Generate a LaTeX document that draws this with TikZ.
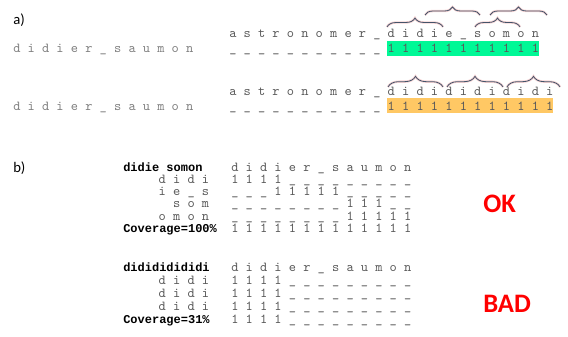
\documentclass[tikz,border=0pt]{standalone}
\usepackage{fontspec}
\setmainfont{Carlito}
\newfontfamily\labelmono{Liberation Mono}
\usepackage{tikz}
\usetikzlibrary{decorations.pathreplacing}
\definecolor{cvgray}{HTML}{595959}
\definecolor{cvname}{HTML}{7F7F7F}
\definecolor{cvgreen}{HTML}{00F896}
\definecolor{cvorange}{HTML}{FFC864}
\definecolor{cvbrace}{HTML}{44546A}
\definecolor{cvglow}{HTML}{F6D3D3}
\definecolor{cvred}{HTML}{FF0000}

\begin{document}
\begin{tikzpicture}[x=0.75pt,y=-0.75pt,
    mono/.style={anchor=base west,inner sep=0pt,font=\fontsize{10.29}{10}\ttfamily,text=cvgray},
    monoright/.style={anchor=base east,inner sep=0pt,font=\fontsize{10.29}{10}\ttfamily,text=cvgray},
    monobold/.style={anchor=base west,inner sep=0pt,font=\fontsize{9}{9}\labelmono\bfseries,text=black},
    partlabel/.style={anchor=base west,inner sep=0pt,font=\fontsize{11}{11}\selectfont},
    verdict/.style={anchor=base west,inner sep=0pt,font=\fontsize{20}{20}\selectfont\bfseries,text=cvred},
    cover/.style={decorate,decoration={brace,amplitude=#1},draw=cvbrace,line width=0.6pt},
    cover/.default=6.75pt,
    coverglow/.style={decorate,decoration={brace,amplitude=#1},draw=cvglow,line width=1.8pt},
    coverglow/.default=6.75pt]
  \useasboundingbox (0,0) rectangle (568,336);

  \node[partlabel] (pa) at (13,24) {a)};
  \fill[cvgreen] (387.4,41) rectangle (538.6,56);
  \node[mono,text=cvname] (aname) at (13,52) {d i d i e r \_ s a u m o n};
  \node[mono] (atext) at (229,37) {a s t r o n o m e r \_ d i d i e \_ s o m o n};
  \node[mono] (amask) at (229,52) {\_ \_ \_ \_ \_ \_ \_ \_ \_ \_ \_ 1 1 1 1 1 1 1 1 1 1 1};
  \foreach \xa/\xb/\yb/\amp in {387/443/27/6.75pt,425/480/15/6pt,475/520/27/6.75pt,490/547/15/6pt}{
    \draw[coverglow=\amp] (\xa,\yb) -- (\xb,\yb);
    \draw[cover=\amp] (\xa,\yb) -- (\xb,\yb);
  }

  \fill[cvorange] (387.4,98) rectangle (553,113);
  \node[mono,text=cvname] (bname) at (13,110) {d i d i e r \_ s a u m o n};
  \node[mono] (btext) at (229,95) {a s t r o n o m e r \_ d i d i d i d i d i d i};
  \node[mono] (bmask) at (229,110) {\_ \_ \_ \_ \_ \_ \_ \_ \_ \_ \_ 1 1 1 1 1 1 1 1 1 1 1 1};
  \foreach \xa/\xb in {388/443,447/503,507/560}{
    \draw[coverglow=8pt] (\xa,87) -- (\xb,87);
    \draw[cover=8pt] (\xa,87) -- (\xb,87);
  }

  \node[partlabel] (pb) at (13,172) {b)};
  \node[monobold] (okhead) at (123,171) {didie somon};
  \node[mono] (okcols) at (231,171) {d i d i e r \_ s a u m o n};
  \node[monoright] (okl1) at (209.4,183.3) {d i d i};
  \node[mono] (okr1) at (231,183.3) {1 1 1 1 \_ \_ \_ \_ \_ \_ \_ \_ \_};
  \node[monoright] (okl2) at (209.4,195.6) {i e \_ s};
  \node[mono] (okr2) at (231,195.6) {\_ \_ \_ 1 1 1 1 1 \_ \_ \_ \_ \_};
  \node[monoright] (okl3) at (209.4,207.9) {s o m};
  \node[mono] (okr3) at (231,207.9) {\_ \_ \_ \_ \_ \_ \_ \_ 1 1 1 \_ \_};
  \node[monoright] (okl4) at (209.4,220.2) {o m o n};
  \node[mono] (okr4) at (231,220.2) {\_ \_ \_ \_ \_ \_ \_ \_ 1 1 1 1 1};
  \node[monobold] (okcov) at (123,232.5) {Coverage=100\%};
  \node[mono] (okr5) at (231,232.5) {1 1 1 1 1 1 1 1 1 1 1 1 1};
  \node[verdict] (okmark) at (483,212) {OK};

  \node[monobold] (badhead) at (123,271) {didididididi};
  \node[mono] (badcols) at (231,271) {d i d i e r \_ s a u m o n};
  \foreach \yr [count=\i] in {284,297,310}{
    \node[monoright] (badl\i) at (209.4,\yr) {d i d i};
    \node[mono] (badr\i) at (231,\yr) {1 1 1 1 \_ \_ \_ \_ \_ \_ \_ \_ \_};
  }
  \node[monobold] (badcov) at (123,323) {Coverage=31\%};
  \node[mono] (badr4) at (231,323) {1 1 1 1 \_ \_ \_ \_ \_ \_ \_ \_ \_};
  \node[verdict] (badmark) at (483,312) {BAD};
\end{tikzpicture}
\end{document}
